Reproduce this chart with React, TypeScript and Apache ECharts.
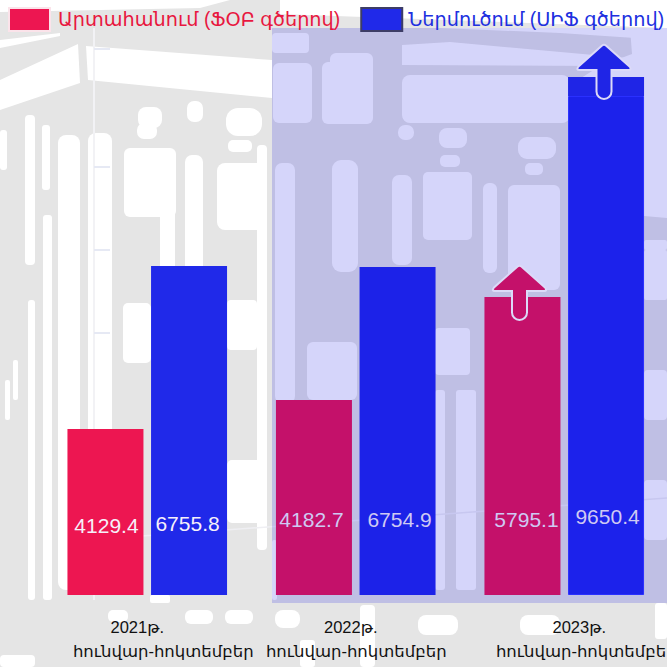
import React, { useEffect, useRef } from "react";
import * as echarts from "echarts";

const categories = ["2021", "2022", "2023"];
const yearLabels = ["2021թ.", "2022թ.", "2023թ."];
const periodLabel = "հունվար-հոկտեմբեր";
const exportName = "Արտահանում (ՖՕԲ գծերով)";
const importName = "Ներմուծում (ՍԻՖ գծերով)";
// Printed values
const exportValues = [4129.4, 4182.7, 5795.1];
const importValues = [6755.8, 6754.9, 9650.4];
// The reference's bars are not proportional to the printed values: heights
const exportHeights = [166, 195, 298];
const importHeights = [329, 328, 499];
const importCap = [0, 0, 19];

const ARROW =
  "M-2.2 1.2 Q0 -0.6 2.2 1.2 L25.5 22 Q28.2 25.5 24.5 25.5 L7.5 25.5 L7.5 47 A7.5 7.5 0 0 1 -7.5 47 L-7.5 25.5 L-24.5 25.5 Q-28.2 25.5 -25.5 22 Z";
echarts.graphic.registerShape("arrowUp", echarts.graphic.extendPath(ARROW, {}));

// Decorative background texture: white blobs on grey [x, y, w, h, r]
const blobs = [
  [124, 148, 52, 69, 6], [160, 210, 15, 60, 4], [185, 155, 18, 120, 7], [217, 163, 50, 67, 8], [257, 145, 10, 160, 4],
  [58, 135, 22, 455, 8], [88, 133, 24, 460, 8], [25, 115, 10, 150, 4], [42, 125, 8, 65, 3], [43, 215, 9, 385, 3],
  [28, 300, 7, 300, 3], [0, 130, 7, 40, 3], [138, 107, 24, 21, 8], [137, 123, 20, 16, 7], [187, 101, 16, 21, 7],
  [226, 108, 36, 28, 12], [228, 140, 24, 12, 5], [123, 303, 28, 60, 5], [227, 300, 30, 50, 4], [227, 460, 38, 63, 5],
  [257, 260, 10, 290, 4], [13, 360, 5, 40, 2], [5, 380, 5, 40, 2], [150, 595, 20, 8, 2],
  [185, 610, 28, 14, 6], [225, 610, 28, 14, 6], [275, 610, 25, 18, 8], [108, 610, 20, 12, 5], [0, 655, 35, 12, 4],
  [418, 615, 40, 20, 8], [520, 615, 40, 20, 8], [655, 603, 12, 36, 3], [300, 640, 15, 27, 3], [360, 605, 15, 62, 4],
  [272, 33, 37, 20, 4], [273, 63, 39, 60, 6], [322, 62, 51, 62, 6], [330, 53, 43, 20, 6],
  [402, 75, 168, 48, 8], [275, 163, 20, 240, 7], [332, 160, 26, 112, 9], [392, 175, 20, 90, 7], [423, 172, 49, 68, 5],
  [435, 328, 35, 47, 4], [307, 342, 50, 58, 6], [398, 125, 16, 15, 7], [439, 128, 28, 20, 8], [440, 155, 20, 12, 5],
  [518, 137, 38, 22, 9], [525, 163, 18, 12, 5], [508, 185, 52, 105, 6], [483, 183, 14, 90, 6],
  [644, 240, 23, 10, 2], [644, 250, 23, 50, 2], [644, 370, 23, 50, 4], [644, 480, 23, 60, 4],
  [435, 390, 10, 200, 3], [456, 390, 20, 200, 3], [276, 410, 5, 180, 2], [272, 540, 5, 60, 2],
];
const whitePolys = [
  [[0, 80], [78, 44], [80, 83], [0, 110]],
  [[86, 46], [272, 60], [272, 98], [88, 80]],
  [[0, 40], [60, 33], [60, 36], [0, 48]],
  [[0, 0], [230, 0], [200, 8], [0, 12]],
  [[280, 0], [667, 0], [667, 28], [280, 14]],
  [[402, 45], [450, 42], [627, 58], [600, 66], [402, 65]],
  [[630, 28], [667, 28], [667, 218], [575, 210], [570, 85], [600, 66], [632, 54]],
  [[440, 28], [667, 28], [635, 38], [560, 33]],
];

const FONT = "'Liberation Sans', 'DejaVu Sans', sans-serif";
const labelSpots = [
  [[1, 59], [-1.5, 61]],
  [[-2.5, 65], [2, 65]],
  [[4, 65], [1.5, 68]],
];

function valueLabel(i: number, s: number, text: number) {
  return {
    show: true,
    position: "insideBottom",
    distance: labelSpots[i][s][1],
    offset: [labelSpots[i][s][0], 0],
    color: i === 0 ? "#f6f0fa" : "#cfc9f3",
    fontFamily: FONT,
    fontSize: 21,
    formatter: text.toFixed(1),
  };
}

export default function App() {
  const ref = useRef<HTMLDivElement>(null);
  useEffect(() => {
    document.body.style.margin = "0";
    const chart = echarts.init(ref.current!, undefined, { renderer: "svg" });
    const rich: any = {};
    const yearPad = [[0, 20, 0, 0], [0, 10, 0, 0], [0, 0, 0, 30]];
    const linePad = [[0, 0, 0, 32], [0, 0, 0, 1], [0, 0, 0, 44]];
    categories.forEach((_, i) => {
      rich["a" + i] = { fontFamily: FONT, fontSize: 16.5, color: "#111", padding: yearPad[i], lineHeight: 24 };
      rich["b" + i] = { fontFamily: FONT, fontSize: 16.5, color: "#111", padding: linePad[i], lineHeight: 24 };
    });
    chart.setOption({
      animation: false,
      backgroundColor: "#fff",
      grid: { left: 43, top: 0, width: 625.5, height: 595, containLabel: false, outerBoundsMode: "none" },
      legend: {
        left: 8,
        top: 7,
        width: 720,
        padding: 0,
        icon: "rect",
        itemWidth: 41,
        itemHeight: 23,
        itemGap: 20,
        selectedMode: false,
        data: [
          { name: exportName, icon: "rect", itemStyle: { color: "#ed1651", borderColor: "#fbe3ea", borderWidth: 2 }, textStyle: { color: "#e8173f", fontFamily: FONT, fontSize: 19.3, padding: [0, 0, 0, 3] } },
          { name: importName, icon: "rect", itemStyle: { color: "#2029e9", borderColor: "#3d3d66", borderWidth: 2 }, textStyle: { color: "#2030e0", fontFamily: FONT, fontSize: 19.3, padding: [0, 0, 0, 1] } },
        ],
      },
      xAxis: {
        type: "category",
        data: categories,
        axisLine: { show: false },
        axisTick: { show: false },
        axisLabel: {
          interval: 0,
          margin: 20,
          formatter: (_: string, i: number) => `{a${i}|${yearLabels[i]}}\n{b${i}|${periodLabel}}`,
          rich,
        },
      },
      yAxis: { type: "value", min: 0, max: 595, show: false },
      series: [
        {
          name: exportName,
          type: "bar",
          barWidth: 76,
          barGap: "10%",
          itemStyle: { color: "#ed1651" },
          data: exportHeights.map((v, i) => ({
            value: v,
            itemStyle: { color: i === 0 ? "#ed1651" : "#c4116a" },
            label: valueLabel(i, 0, exportValues[i]),
          })),
        },
        {
          name: importName,
          type: "bar",
          stack: "imp",
          barWidth: 76,
          itemStyle: { color: "#2029e9" },
          data: importHeights.map((v, i) => ({
            value: v,
            itemStyle: i === 2
              ? { color: "#1c22eb", borderColor: "#2a30ff", borderWidth: 1 }
              : { color: i === 0 ? "#2029e9" : "#1c22e8" },
            label: valueLabel(i, 1, importValues[i]),
          })),
        },
        {
          name: "cap",
          type: "bar",
          stack: "imp",
          barWidth: 76,
          itemStyle: { color: "#1f25e6" },
          data: importCap,
        },
      ],
      graphic: {
        elements: [
          { type: "rect", z: -10, silent: true, shape: { x: 0, y: 0, width: 667, height: 667 }, style: { fill: "#e5e5e5" } },
          ...whitePolys.map((p) => ({ type: "polygon", z: -9, silent: true, shape: { points: p }, style: { fill: "#fff" } })),
          ...blobs.map(([x, y, width, height, r]) => ({ type: "rect", z: -9, silent: true, shape: { x, y, width, height, r }, style: { fill: "#fff" } })),
          { type: "line", z: -8, silent: true, shape: { x1: 94, y1: 28, x2: 94, y2: 600 }, style: { stroke: "#f2f2f5", lineWidth: 2 } },
          ...[49, 167, 250, 333].map((y) => ({ type: "line", z: -8, silent: true, shape: { x1: 94, y1: y, x2: 110, y2: y }, style: { stroke: "#e6e9f4", lineWidth: 2 } })),
          { type: "line", z: -8, silent: true, shape: { x1: 142, y1: 536, x2: 667, y2: 498 }, style: { stroke: "#efeff3", lineWidth: 1.5 } },
          { type: "rect", z: -7, silent: true, shape: { x: 272, y: 28, width: 395, height: 575 }, style: { fill: "rgba(0,0,224,0.165)" } },
          { type: "arrowUp", z: 50, silent: true, x: 519.5, y: 265.5, style: { fill: "#c4116a", stroke: "#dcdaf8", lineWidth: 2 } },
          { type: "arrowUp", z: 50, silent: true, x: 604, y: 44.5, style: { fill: "#1f25e6", stroke: "#dcdaf8", lineWidth: 2 } },
        ],
      },
    });
    return () => chart.dispose();
  }, []);
  return <div ref={ref} style={{ width: 667, height: 667 }} />;
}
